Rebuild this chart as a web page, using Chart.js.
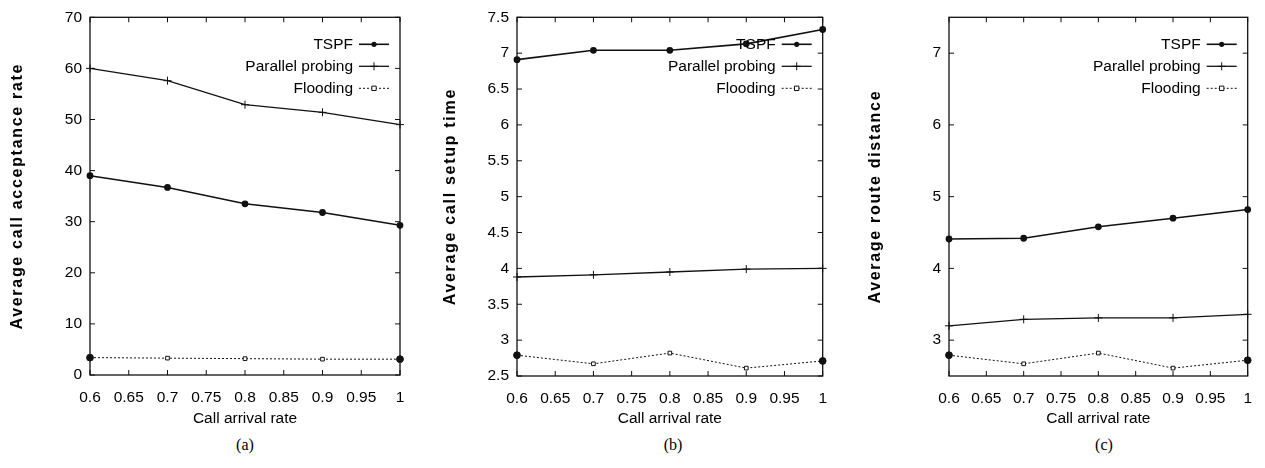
<!DOCTYPE html>
<html>
<head>
<meta charset="utf-8">
<title>Call routing comparison</title>
<script src="https://cdn.jsdelivr.net/npm/chart.js@4.4.0/dist/chart.umd.min.js"></script>
<style>
  html, body { margin: 0; padding: 0; background: #fff; }
  #wrap { position: relative; width: 1265px; height: 468px; overflow: hidden; }
  .panel { position: absolute; top: 0; height: 468px; }
  .panel canvas { position: absolute; left: 0; top: 0; }
  .caption {
    position: absolute; top: 436px; width: 60px; text-align: center;
    font-family: "Liberation Serif", "Times New Roman", serif; font-size: 16px; color: #000;
  }
</style>
</head>
<body>
<div id="wrap">
  <div class="panel" style="left:0;width:420px">
    <canvas id="chartA" width="420" height="430"></canvas>
    <div class="caption" style="left:215px">(a)</div>
  </div>
  <div class="panel" style="left:420px;width:420px">
    <canvas id="chartB" width="420" height="430"></canvas>
    <div class="caption" style="left:223px">(b)</div>
  </div>
  <div class="panel" style="left:840px;width:425px">
    <canvas id="chartC" width="425" height="430"></canvas>
    <div class="caption" style="left:234px">(c)</div>
  </div>
</div>
<script>
var arrivalRates = [0.6, 0.7, 0.8, 0.9, 1.0];
var xTickValues = [0.6, 0.65, 0.7, 0.75, 0.8, 0.85, 0.9, 0.95, 1.0];
var xTickLabels = ["0.6", "0.65", "0.7", "0.75", "0.8", "0.85", "0.9", "0.95", "1"];
var seriesNames = ["TSPF", "Parallel probing", "Flooding"];

// (a) acceptance rate
var acceptTspf = [39.0, 36.7, 33.5, 31.8, 29.3];
var acceptParallel = [60.0, 57.6, 52.9, 51.4, 49.0];
var acceptFlooding = [3.4, 3.3, 3.2, 3.1, 3.1];
var acceptTicks = [0, 10, 20, 30, 40, 50, 60, 70];
var acceptTickLabels = ["0", "10", "20", "30", "40", "50", "60", "70"];

// (b) setup time
var setupTspf = [6.91, 7.04, 7.04, 7.13, 7.33];
var setupParallel = [3.88, 3.91, 3.95, 3.99, 4.0];
var setupFlooding = [2.79, 2.67, 2.82, 2.61, 2.71];
var setupTicks = [2.5, 3, 3.5, 4, 4.5, 5, 5.5, 6, 6.5, 7, 7.5];
var setupTickLabels = ["2.5", "3", "3.5", "4", "4.5", "5", "5.5", "6", "6.5", "7", "7.5"];

// (c) route distance
var distTspf = [4.41, 4.42, 4.58, 4.70, 4.82];
var distParallel = [3.20, 3.29, 3.31, 3.31, 3.36];
var distFlooding = [2.79, 2.67, 2.82, 2.61, 2.72];
var distTicks = [3, 4, 5, 6, 7];
var distTickLabels = ["3", "4", "5", "6", "7"];

var sansFont = "'Liberation Sans', Arial, sans-serif";
var textSize = 15.5;
var ink = "#111";

Chart.defaults.font.family = sansFont;
Chart.defaults.font.size = textSize;
Chart.defaults.color = "#000";

function toPoints(values) {
  return arrivalRates.map(function (x, i) {
    return { x: x, y: values[i] };
  });
}

function drawMarker(ctx, style, x, y) {
  ctx.beginPath();
  if (style === "circle") {
    ctx.arc(x, y, 2.6, 0, Math.PI * 2);
    ctx.fillStyle = ink;
    ctx.fill();
  } else if (style === "cross") {
    ctx.moveTo(x - 4, y); ctx.lineTo(x + 4, y);
    ctx.moveTo(x, y - 4); ctx.lineTo(x, y + 4);
    ctx.setLineDash([]);
    ctx.stroke();
  } else {
    ctx.rect(x - 2.2, y - 2.2, 4.4, 4.4);
    ctx.fillStyle = "#fff";
    ctx.fill();
    ctx.setLineDash([]);
    ctx.stroke();
  }
}

// box round the plot with gnuplot-like inward ticks on all four sides
var framePlugin = {
  id: "frame",
  beforeDatasetsDraw: function (chart) {
    var a = chart.chartArea, ctx = chart.ctx;
    var xs = chart.scales.x, ys = chart.scales.y;
    ctx.save();
    ctx.strokeStyle = ink;
    ctx.lineWidth = 1.3;
    ctx.strokeRect(a.left, a.top, a.right - a.left, a.bottom - a.top);
    ctx.beginPath();
    xs.ticks.forEach(function (t) {
      var px = xs.getPixelForValue(t.value);
      ctx.moveTo(px, a.bottom); ctx.lineTo(px, a.bottom - 5);
      ctx.moveTo(px, a.top); ctx.lineTo(px, a.top + 5);
    });
    ys.ticks.forEach(function (t) {
      var py = ys.getPixelForValue(t.value);
      ctx.moveTo(a.left, py); ctx.lineTo(a.left + 5, py);
      ctx.moveTo(a.right, py); ctx.lineTo(a.right - 5, py);
    });
    ctx.lineWidth = 1;
    ctx.stroke();
    ctx.restore();
  },
};

// key in the top right corner: label, then a sample of the line with its marker
var keyPlugin = {
  id: "key",
  afterDatasetsDraw: function (chart) {
    var a = chart.chartArea, ctx = chart.ctx;
    ctx.save();
    ctx.font = textSize + "px " + sansFont;
    ctx.textAlign = "right";
    ctx.textBaseline = "middle";
    chart.data.datasets.forEach(function (ds, i) {
      var y = a.top + 27 + i * 22;
      var lineRight = a.right - 11;
      var lineLeft = lineRight - 30;
      ctx.fillStyle = "#000";
      ctx.fillText(ds.label, lineLeft - 6, y);
      ctx.strokeStyle = ink;
      ctx.lineWidth = ds.borderWidth;
      ctx.setLineDash(ds.borderDash || []);
      ctx.beginPath();
      ctx.moveTo(lineLeft, y);
      ctx.lineTo(lineRight, y);
      ctx.stroke();
      ctx.lineWidth = 1;
      drawMarker(ctx, ds.keyMarker, (lineLeft + lineRight) / 2, y);
    });
    ctx.restore();
  },
};

// rotated, letter-spaced y axis title
function yTitlePlugin(text, x) {
  return {
    id: "yTitle",
    afterDraw: function (chart) {
      var a = chart.chartArea, ctx = chart.ctx;
      ctx.save();
      ctx.translate(x, (a.top + a.bottom) / 2);
      ctx.rotate(-Math.PI / 2);
      ctx.font = "bold 16px " + sansFont;
      ctx.letterSpacing = "1.7px";
      ctx.fillStyle = "#000";
      ctx.textAlign = "center";
      ctx.textBaseline = "middle";
      ctx.fillText(text, 0, 0);
      ctx.restore();
    },
  };
}

// flooding points at both ends of the range come out as solid blobs
function isEndPoint(ctx) {
  return ctx.dataIndex === 0 || ctx.dataIndex === arrivalRates.length - 1;
}

function buildPanel(canvasId, panel) {
  var ctx = document.getElementById(canvasId);
  new Chart(ctx, {
    type: "line",
    data: {
      datasets: [
        {
          label: seriesNames[0],
          data: toPoints(panel.tspf),
          borderColor: ink,
          borderWidth: 1.6,
          pointStyle: "circle",
          pointRadius: 2.6,
          pointBackgroundColor: ink,
          pointBorderColor: ink,
          keyMarker: "circle",
          clip: false,
        },
        {
          label: seriesNames[1],
          data: toPoints(panel.parallel),
          borderColor: ink,
          borderWidth: 1.3,
          pointStyle: "cross",
          pointRadius: 4,
          pointBorderWidth: 1,
          pointBorderColor: ink,
          keyMarker: "cross",
          clip: false,
        },
        {
          label: seriesNames[2],
          data: toPoints(panel.flooding),
          borderColor: ink,
          borderWidth: 1,
          borderDash: [2, 2],
          pointStyle: function (c) { return isEndPoint(c) ? "circle" : "rect"; },
          pointRadius: function (c) { return isEndPoint(c) ? 3.4 : 2.6; },
          pointBackgroundColor: function (c) { return isEndPoint(c) ? ink : "#fff"; },
          pointBorderColor: ink,
          pointBorderWidth: 1,
          keyMarker: "rect",
          clip: false,
        },
      ],
    },
    options: {
      responsive: false,
      animation: false,
      events: [],
      layout: {
        padding: { top: panel.padTop, right: panel.padRight, left: 0, bottom: 0 },
      },
      plugins: {
        legend: { display: false },
        tooltip: { enabled: false },
      },
      scales: {
        x: {
          type: "linear",
          min: 0.6,
          max: 1.0,
          grid: { display: false, drawTicks: false },
          border: { display: false },
          afterBuildTicks: function (scale) {
            scale.ticks = xTickValues.map(function (v) { return { value: v }; });
          },
          afterFit: function (scale) {
            scale.height = panel.xAxisHeight;
          },
          ticks: {
            autoSkip: false,
            maxRotation: 0,
            padding: 13,
            callback: function (value, index) {
              return xTickLabels[index];
            },
          },
          title: {
            display: true,
            text: "Call arrival rate",
            font: { size: textSize },
            padding: { top: 0, bottom: 2 },
          },
        },
        y: {
          type: "linear",
          min: panel.yMin,
          max: panel.yMax,
          grid: { display: false, drawTicks: false },
          border: { display: false },
          afterBuildTicks: function (scale) {
            scale.ticks = panel.yTicks.map(function (v) { return { value: v }; });
          },
          afterFit: function (scale) {
            scale.width = panel.yAxisWidth;
          },
          ticks: {
            autoSkip: false,
            padding: 8,
            callback: function (value, index) {
              return panel.yTickLabels[index];
            },
          },
        },
      },
    },
    plugins: [framePlugin, keyPlugin, yTitlePlugin(panel.yTitle, panel.titleX)],
  });
}

buildPanel("chartA", {
  tspf: acceptTspf,
  parallel: acceptParallel,
  flooding: acceptFlooding,
  yMin: 0,
  yMax: 70,
  yTicks: acceptTicks,
  yTickLabels: acceptTickLabels,
  yTitle: "Average call acceptance rate",
  titleX: 18,
  padTop: 15,
  padRight: 20,
  yAxisWidth: 90,
  xAxisHeight: 55,
});

buildPanel("chartB", {
  tspf: setupTspf,
  parallel: setupParallel,
  flooding: setupFlooding,
  yMin: 2.5,
  yMax: 7.5,
  yTicks: setupTicks,
  yTickLabels: setupTickLabels,
  yTitle: "Average call setup time",
  titleX: 31,
  padTop: 16,
  padRight: 11,
  yAxisWidth: 97,
  xAxisHeight: 54,
});

buildPanel("chartC", {
  tspf: distTspf,
  parallel: distParallel,
  flooding: distFlooding,
  yMin: 2.5,
  yMax: 7.5,
  yTicks: distTicks,
  yTickLabels: distTickLabels,
  yTitle: "Average route distance",
  titleX: 36,
  padTop: 17,
  padRight: 6,
  yAxisWidth: 109,
  xAxisHeight: 54,
});
</script>
</body>
</html>
